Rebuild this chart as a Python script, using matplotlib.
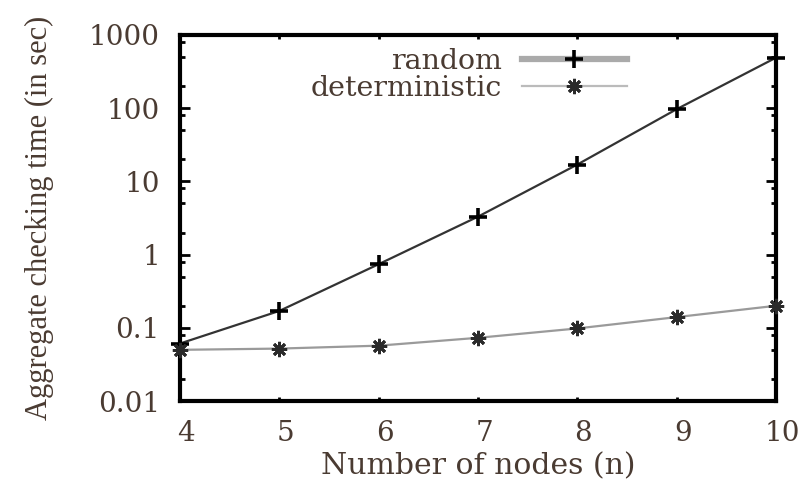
import numpy as np
import matplotlib
matplotlib.use('Agg')
import matplotlib.pyplot as plt
import matplotlib.transforms as mtransforms
from matplotlib.lines import Line2D
from matplotlib.ticker import LogLocator, FixedLocator, NullFormatter

# values
nodes = [4, 5, 6, 7, 8, 9, 10]
random_time = [0.061, 0.17, 0.74, 3.3, 17.0, 97.0, 490.0]
determ_time = [0.050, 0.052, 0.057, 0.073, 0.098, 0.14, 0.20]
ytick_vals = [0.01, 0.1, 1, 10, 100, 1000]
ytick_text = ['0.01', '0.1', '1', '10', '100', '1000']
series_names = ['random', 'deterministic']

txt = '#4a3b32'
wide = ['DejaVu Serif']            # the reference text is stretched sideways
narrow = ['Liberation Serif', 'DejaVu Serif']
plt.rcParams['font.family'] = wide
plt.rcParams['font.size'] = 20

fig = plt.figure(figsize=(8.05, 4.79), dpi=100)
ax = fig.add_axes([180/805, 1 - 401/479, (776-180)/805, (401-35)/479])

ax.plot(nodes, random_time, color='#333333', lw=1.6, marker='+', ms=13,
        mew=2.6, mec='black', clip_on=False, zorder=3)
ax.plot(nodes, determ_time, color='#9a9a9a', lw=1.6, marker=(8, 2, 0), ms=11,
        mew=2.0, mec='#2a2a2a', clip_on=False, zorder=3)

ax.set_yscale('log')
ax.set_xlim(4, 10)
ax.set_ylim(0.01, 1000)
ax.set_xticks(nodes)
ax.set_xticklabels([str(n) for n in nodes])
ax.yaxis.set_major_locator(FixedLocator(ytick_vals))
ax.set_yticklabels(ytick_text)
ax.yaxis.set_minor_locator(LogLocator(base=10, subs=[2, 5, 8]))
ax.yaxis.set_minor_formatter(NullFormatter())

for s in ax.spines.values():
    s.set_linewidth(3.0)
ax.tick_params(axis='y', which='major', direction='in', length=7, width=2,
               right=True, colors='black', labelcolor=txt, pad=14.5)
ax.tick_params(axis='y', which='minor', direction='in', length=3.5, width=2,
               right=True)
ax.tick_params(axis='x', which='major', direction='in', length=3, width=2,
               top=True, colors='black', labelcolor=txt, pad=14)

# gnuplot labels sit a little right of their ticks
shift = mtransforms.ScaledTranslation(6/100, 0, fig.dpi_scale_trans)
for lbl in ax.get_xticklabels():
    lbl.set_transform(lbl.get_transform() + shift)

ax.set_xlabel('Number of nodes (n)', color=txt, fontsize=21.5)
ax.xaxis.set_label_coords(0.5, -0.14)
ax.set_ylabel('Aggregate checking time (in sec)', color=txt, fontsize=22,
              family=narrow)
ax.yaxis.set_label_coords(-0.212, 0.5)

handles = [
    Line2D([], [], color='#aaaaaa', lw=4.5, marker='+', ms=13, mew=2.6, mec='black'),
    Line2D([], [], color='#bbbbbb', lw=1.6, marker=(8, 2, 0), ms=11, mew=2.0, mec='#2a2a2a'),
]
leg = ax.legend(handles, series_names, loc='upper right', bbox_to_anchor=(0.75, 0.965),
                frameon=False, markerfirst=False, handlelength=3.7, fontsize=20.5,
                handletextpad=0.7, labelspacing=0.0, borderaxespad=0, borderpad=0)
for t in leg.get_texts():
    t.set_color(txt)

fig.savefig('out.png', dpi=100)
